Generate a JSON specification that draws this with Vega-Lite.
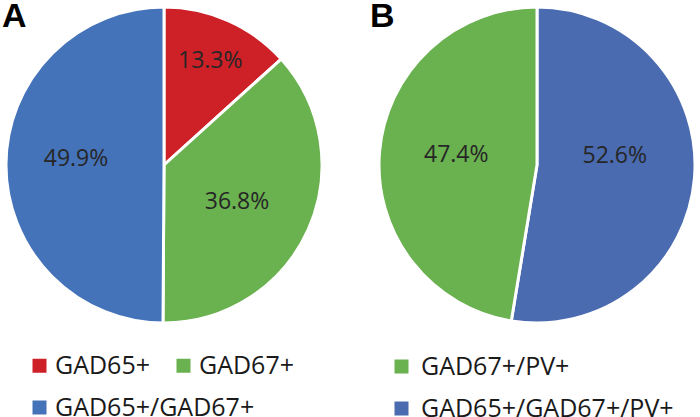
{
  "$schema": "https://vega.github.io/schema/vega-lite/v6.json",
  "padding": 0,
  "background": "white",
  "spacing": 42,
  "config": {"view": {"stroke": null}, "font": "Open Sans", "legend": {"padding": 0}},
  "resolve": {"scale": {"color": "independent", "theta": "independent"}},
  "hconcat": [
    {
      "width": 326,
      "height": 330,
      "title": {"text": "A", "anchor": "start", "frame": "group", "fontSize": 34, "font": "Liberation Sans", "fontWeight": "bold", "color": "#000000", "offset": -34, "dx": 1},
      "data": {"values": [
        {"cat": "GAD65+", "value": 0.133, "order": 1},
        {"cat": "GAD67+", "value": 0.368, "order": 2},
        {"cat": "GAD65+/GAD67+", "value": 0.499, "order": 3}
      ]},
      "encoding": {
        "theta": {"field": "value", "type": "quantitative", "stack": true},
        "order": {"field": "order", "type": "quantitative"}
      },
      "resolve": {"scale": {"color": "independent"}, "legend": {"color": "independent"}},
      "layer": [
        {
          "mark": {"type": "arc", "radius": 158, "stroke": "white", "strokeWidth": 3},
          "encoding": {
            "color": {
              "field": "cat", "type": "nominal",
              "scale": {"domain": ["GAD65+", "GAD67+", "GAD65+/GAD67+"], "range": ["#cd2027", "#6ab14f", "#4473b9"]},
              "legend": {"values": ["GAD65+", "GAD67+"], "orient": "none", "legendX": 26, "legendY": 353, "direction": "horizontal", "title": null, "padding": 0, "symbolType": "square", "symbolSize": 196, "symbolStrokeWidth": 0, "labelFontSize": 25, "labelFont": "Open Sans", "labelColor": "#1a1a1a", "labelOffset": 3, "columnPadding": 20, "labelLimit": 400}
            }
          }
        },
        {
          "mark": {"type": "arc", "radius": 158, "opacity": 0},
          "encoding": {
            "color": {
              "field": "cat", "type": "nominal",
              "scale": {"domain": ["GAD65+", "GAD67+", "GAD65+/GAD67+"], "range": ["#cd2027", "#6ab14f", "#4473b9"]},
              "legend": {"values": ["GAD65+/GAD67+"], "orient": "none", "legendX": 26, "legendY": 395, "direction": "horizontal", "title": null, "padding": 0, "symbolType": "square", "symbolSize": 196, "symbolStrokeWidth": 0, "symbolOpacity": 1, "labelFontSize": 25, "labelFont": "Open Sans", "labelColor": "#1a1a1a", "labelOffset": 3, "labelLimit": 400}
            }
          }
        },
        {
          "mark": {"type": "text", "radius": 114, "fontSize": 23, "color": "#262626"},
          "encoding": {"text": {"condition": {"test": "datum.cat === 'GAD65+'", "field": "value", "type": "quantitative", "format": ".1%"}, "value": ""}}
        },
        {
          "mark": {"type": "text", "radius": 80, "dy": 4, "fontSize": 23, "color": "#262626"},
          "encoding": {"text": {"condition": {"test": "datum.cat === 'GAD67+'", "field": "value", "type": "quantitative", "format": ".1%"}, "value": ""}}
        },
        {
          "mark": {"type": "text", "radius": 88, "dy": -6, "fontSize": 23, "color": "#262626"},
          "encoding": {"text": {"condition": {"test": "datum.cat === 'GAD65+/GAD67+'", "field": "value", "type": "quantitative", "format": ".1%"}, "value": ""}}
        }
      ]
    },
    {
      "width": 326,
      "height": 330,
      "title": {"text": "B", "anchor": "start", "frame": "group", "fontSize": 34, "font": "Liberation Sans", "fontWeight": "bold", "color": "#000000", "offset": -34, "dx": -4},
      "data": {"values": [
        {"cat": "GAD65+/GAD67+/PV+", "value": 0.526, "order": 1},
        {"cat": "GAD67+/PV+", "value": 0.474, "order": 2}
      ]},
      "encoding": {
        "theta": {"field": "value", "type": "quantitative", "stack": true},
        "order": {"field": "order", "type": "quantitative"}
      },
      "layer": [
        {
          "mark": {"type": "arc", "radius": 158, "stroke": "white", "strokeWidth": 3},
          "encoding": {
            "color": {
              "field": "cat", "type": "nominal",
              "scale": {"domain": ["GAD67+/PV+", "GAD65+/GAD67+/PV+"], "range": ["#6ab14f", "#4b6bb0"]},
              "legend": {"orient": "none", "legendX": 15, "legendY": 354, "direction": "vertical", "columns": 1, "title": null, "padding": 0, "symbolType": "square", "symbolSize": 196, "symbolStrokeWidth": 0, "labelFontSize": 25, "labelFont": "Open Sans", "labelColor": "#1a1a1a", "labelOffset": 7, "rowPadding": 16, "labelLimit": 400}
            }
          }
        },
        {
          "mark": {"type": "text", "radius": 78, "dy": -15, "fontSize": 23, "color": "#262626"},
          "encoding": {"text": {"condition": {"test": "datum.cat === 'GAD65+/GAD67+/PV+'", "field": "value", "type": "quantitative", "format": ".1%"}, "value": ""}}
        },
        {
          "mark": {"type": "text", "radius": 81, "dy": -3, "fontSize": 23, "color": "#262626"},
          "encoding": {"text": {"condition": {"test": "datum.cat === 'GAD67+/PV+'", "field": "value", "type": "quantitative", "format": ".1%"}, "value": ""}}
        }
      ]
    }
  ]
}
